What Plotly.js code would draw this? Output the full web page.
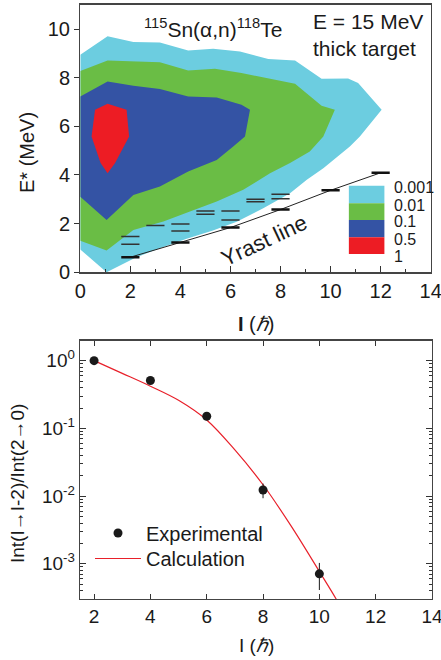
<!DOCTYPE html>
<html>
<head>
<meta charset="utf-8">
<script src="https://cdn.plot.ly/plotly-3.0.1.min.js"></script>
<style>html,body{margin:0;padding:0;background:#fff;}#chart{width:441px;height:660px;}</style>
</head>
<body>
<div id="chart"></div>
<script>
// ---------- Top panel: population contours (boundaries) ----------
var lvl0001X = [0, 0, 1.09, 2.12, 3.18, 4.31, 5.31, 6.38, 7.51, 8.58, 9.64, 10.7, 11.1, 12.04, 11.17, 10.77, 9.71, 9.05, 8.38, 7.31, 6.25, 5.3, 4.25, 3.2, 2.2, 1.05, 0];
var lvl0001Y = [0.94, 8.94, 9.7, 9.47, 9.45, 9.12, 9.19, 9.08, 8.77, 8.71, 7.96, 7.97, 7.78, 6.68, 5.58, 5.17, 4.28, 3.8, 3.25, 2.63, 2.08, 1.72, 1.38, 1.0, 0.6, 0, 0.94];
var lvl001X = [0, 0, 1.09, 2.12, 3.18, 4.31, 5.38, 6.44, 7.51, 8.58, 9.64, 10.17, 9.71, 9.17, 8.38, 7.58, 6.51, 5.45, 4.38, 3.32, 2.12, 1.05, 0];
var lvl001Y = [1.3, 8.27, 8.71, 8.67, 8.63, 8.3, 8.37, 8.19, 7.96, 7.75, 6.85, 6.68, 5.58, 4.97, 4.49, 4.07, 3.39, 2.91, 2.5, 2.09, 1.74, 0.9, 1.3];
var lvl01X = [0, 0, 1.09, 2.12, 3.18, 4.31, 5.45, 6.44, 6.78, 6.58, 6.11, 5.45, 4.31, 3.18, 2.12, 1.05, 0];
var lvl01Y = [3.11, 7.23, 7.84, 7.67, 7.53, 7.23, 7.19, 6.89, 6.68, 5.58, 5.17, 4.62, 4.14, 3.53, 3.18, 2.15, 3.11];
var lvl05X = [0.59, 1.09, 1.85, 1.95, 1.39, 1.09, 0.81, 0.45, 0.59];
var lvl05Y = [6.68, 6.93, 6.68, 5.58, 4.49, 4.07, 4.49, 5.58, 6.68];

// Experimental levels of 118Te
var yrastSpin = [2, 4, 6, 8, 10, 12];
var yrastE = [0.62, 1.22, 1.84, 2.58, 3.37, 4.09];
var otherSpin = [2, 2, 3, 4, 4, 5, 5, 6, 6, 7, 7, 8, 8];
var otherE = [1.15, 1.47, 1.92, 1.70, 1.99, 2.39, 2.52, 2.15, 2.52, 2.90, 3.00, 3.02, 3.21];

// Contour legend
var levelLabels = ['0.001', '0.01', '0.1', '0.5', '1'];
var levelColors = ['#6ccde0', '#6abd45', '#3453a4', '#ed1c24'];

// ---------- Bottom panel ----------
var expSpin = [2, 4, 6, 8, 10];
var expRatio = [1.0, 0.51, 0.151, 0.0123, 0.00071];
var expErrPlus = [0, 0, 0, 0.003, 0.00032];
var expErrMinus = [0, 0, 0, 0.003, 0.0003];
var calcSpin = [2, 3, 4, 5, 6, 7, 8, 9, 10, 10.6, 11];
var calcRatio = [1.0, 0.65, 0.42, 0.26, 0.133, 0.048, 0.0147, 0.0036, 0.00077, 0.0003, 0.00015];

var FONT = 'Liberation Sans, Arial, sans-serif';
var TXT = '#1a1a1a';

var traces = [
  {x: lvl0001X, y: lvl0001Y, fill: 'toself', fillcolor: levelColors[0], mode: 'lines', line: {width: 0}, xaxis: 'x', yaxis: 'y', showlegend: false, hoverinfo: 'skip'},
  {x: lvl001X, y: lvl001Y, fill: 'toself', fillcolor: levelColors[1], mode: 'lines', line: {width: 0}, xaxis: 'x', yaxis: 'y', showlegend: false, hoverinfo: 'skip'},
  {x: lvl01X, y: lvl01Y, fill: 'toself', fillcolor: levelColors[2], mode: 'lines', line: {width: 0}, xaxis: 'x', yaxis: 'y', showlegend: false, hoverinfo: 'skip'},
  {x: lvl05X, y: lvl05Y, fill: 'toself', fillcolor: levelColors[3], mode: 'lines', line: {width: 0}, xaxis: 'x', yaxis: 'y', showlegend: false, hoverinfo: 'skip'},
  {x: yrastSpin, y: yrastE, mode: 'lines', line: {color: '#222', width: 1}, xaxis: 'x', yaxis: 'y', showlegend: false},
  {x: otherSpin, y: otherE, mode: 'markers', marker: {symbol: 'line-ew', size: 13, line: {color: '#333', width: 1.5}}, xaxis: 'x', yaxis: 'y', showlegend: false},
  {x: yrastSpin, y: yrastE, mode: 'markers', marker: {symbol: 'line-ew', size: 13, line: {color: '#111', width: 2.5}}, xaxis: 'x', yaxis: 'y', showlegend: false},
  {x: calcSpin, y: calcRatio, name: 'Calculation', legend: 'legend2', mode: 'lines', line: {color: '#e8202a', width: 1.2, shape: 'spline'}, xaxis: 'x2', yaxis: 'y2'},
  {x: expSpin, y: expRatio, name: 'Experimental', legend: 'legend', mode: 'markers', marker: {color: '#1a1a1a', size: 9},
   error_y: {type: 'data', array: expErrPlus, arrayminus: expErrMinus, visible: true, color: '#1a1a1a', thickness: 1, width: 0},
   xaxis: 'x2', yaxis: 'y2'}
];

var shapes = [];
var annotations = [];
var boxTop = [3.56, 2.84, 2.15, 1.44, 0.75];
for (var i = 0; i < 4; i++) {
  shapes.push({type: 'rect', xref: 'x', yref: 'y', x0: 10.73, x1: 12.15, y0: boxTop[i + 1], y1: boxTop[i], fillcolor: levelColors[i], line: {width: 0}, layer: 'above'});
}
for (var j = 0; j < levelLabels.length; j++) {
  annotations.push({xref: 'x', yref: 'y', x: 12.45, y: boxTop[j] - 0.08, text: levelLabels[j], showarrow: false, xanchor: 'left', yanchor: 'middle', font: {family: FONT, size: 16, color: TXT}});
}
function pa(px, py, text, size, angle, anchor) {
  annotations.push({xref: 'paper', yref: 'paper', x: px / 441, y: 1 - py / 660, text: text, showarrow: false,
    xanchor: anchor || 'center', yanchor: 'middle', textangle: angle || 0, font: {family: FONT, size: size, color: TXT}});
}
pa(213, 28, '<sup>115</sup>Sn(α,n)<sup>118</sup>Te', 21);
pa(311, 22, 'E = 15 MeV', 21, 0, 'left');
pa(311, 48, 'thick target', 21, 0, 'left');
pa(264, 240, 'Yrast line', 22, -25);
pa(27, 153, 'E* (MeV)', 20, -90);
pa(256, 324, '<b>I</b> (<i>ℏ</i>)', 20);
pa(18, 484, 'Int(I→I-2)/Int(2→0)', 19, -90);
pa(256, 645, 'I (<i>ℏ</i>)', 19);

var minorVals = [];
for (var d = -4; d <= 0; d++) {
  for (var k = 2; k <= 9; k++) minorVals.push(k * Math.pow(10, d));
}

var legendCommon = {xanchor: 'left', yanchor: 'middle', bgcolor: 'rgba(0,0,0,0)', font: {family: FONT, size: 20, color: TXT}, itemwidth: 46};

var layout = {
  width: 441, height: 660,
  margin: {l: 0, r: 0, t: 0, b: 0},
  paper_bgcolor: '#fff', plot_bgcolor: '#fff',
  font: {family: FONT, color: TXT},
  showlegend: true,
  legend: Object.assign({x: 90 / 441, y: 1 - 533 / 660}, legendCommon),
  legend2: Object.assign({x: 90 / 441, y: 1 - 558.5 / 660}, legendCommon),
  xaxis: {domain: [80.3 / 441, 430.7 / 441], anchor: 'y', range: [0, 14], tickmode: 'linear', tick0: 0, dtick: 2,
    ticks: 'inside', ticklen: 6, tickwidth: 1, tickcolor: '#333', showline: true, linecolor: '#444', linewidth: 1.3, mirror: true,
    showgrid: false, zeroline: false, tickfont: {family: FONT, size: 20, color: TXT}, ticklabeloverflow: 'allow',
    minor: {ticks: 'inside', ticklen: 3.5, dtick: 1, tickcolor: '#333', showgrid: false}},
  yaxis: {domain: [1 - 272.3 / 660, 1 - 4.7 / 660], anchor: 'x', range: [0, 11], tickmode: 'linear', tick0: 0, dtick: 2,
    ticks: 'outside', ticklen: 5, tickwidth: 1, tickcolor: '#333', showline: true, linecolor: '#444', linewidth: 1.3, mirror: true,
    showgrid: false, zeroline: false, tickfont: {family: FONT, size: 20, color: TXT}},
  xaxis2: {domain: [80 / 441, 432 / 441], anchor: 'y2', range: [1.5, 14], tickmode: 'linear', tick0: 2, dtick: 2,
    ticks: 'inside', ticklen: 5, tickwidth: 1, tickcolor: '#333', showline: true, linecolor: '#444', linewidth: 1.3, mirror: 'ticks',
    showgrid: false, zeroline: false, tickfont: {family: FONT, size: 19, color: TXT}, ticklabeloverflow: 'allow'},
  yaxis2: {domain: [1 - 599 / 660, 1 - 340.7 / 660], anchor: 'x2', type: 'log', range: [-3.52, 0.295],
    tickmode: 'array', tickvals: [0.001, 0.01, 0.1, 1], ticktext: ['10<sup>-3</sup>', '10<sup>-2</sup>', '10<sup>-1</sup>', '10<sup>0</sup>'],
    ticks: 'inside', ticklen: 6, tickwidth: 1, tickcolor: '#333', showline: true, linecolor: '#444', linewidth: 1.3, mirror: 'ticks',
    showgrid: false, zeroline: false, tickfont: {family: FONT, size: 19, color: TXT},
    minor: {tickmode: 'array', tickvals: minorVals, ticks: 'inside', ticklen: 3, tickcolor: '#333', showgrid: false}},
  shapes: shapes,
  annotations: annotations
};

Plotly.newPlot('chart', traces, layout, {displayModeBar: false, staticPlot: true});
</script>
</body>
</html>
